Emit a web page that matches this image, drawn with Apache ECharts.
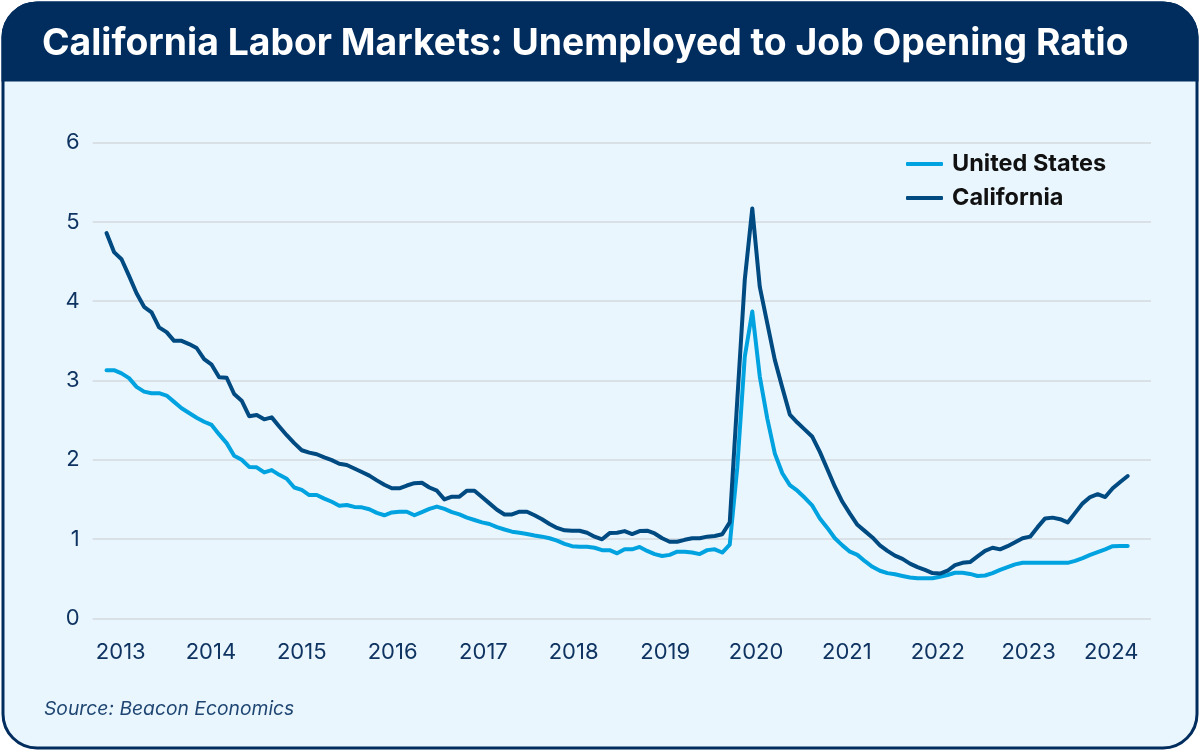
<!DOCTYPE html>
<html>
<head>
<meta charset="utf-8">
<script src="https://cdn.jsdelivr.net/npm/echarts@6/dist/echarts.min.js"></script>
<style>
  html, body { margin: 0; padding: 0; background: #ffffff; }
  #chart { width: 1200px; height: 753px; }
</style>
</head>
<body>
<div id="chart"></div>
<script>
// Monthly observations (index 0 = first month shown)
const unitedStates = [
  3.13, 3.13, 3.09, 3.03, 2.92, 2.86, 2.84, 2.84, 2.81, 2.73, 2.65, 2.59,
  2.53, 2.48, 2.44, 2.32, 2.21, 2.05, 2.00, 1.91, 1.905, 1.84, 1.87, 1.81,
  1.76, 1.65, 1.62, 1.555, 1.555, 1.51, 1.47, 1.42, 1.43, 1.405, 1.40, 1.375,
  1.33, 1.30, 1.335, 1.345, 1.345, 1.30, 1.34, 1.38, 1.41, 1.38, 1.34, 1.31,
  1.27, 1.24, 1.21, 1.19, 1.15, 1.12, 1.093, 1.08, 1.063, 1.045, 1.03, 1.01,
  0.98, 0.94, 0.91, 0.903, 0.903, 0.89, 0.86, 0.86, 0.82, 0.87, 0.87, 0.90,
  0.85, 0.81, 0.786, 0.80, 0.84, 0.84, 0.83, 0.81, 0.86, 0.87, 0.83, 0.93,
  1.9, 3.30, 3.87, 3.05, 2.52, 2.08, 1.83, 1.68, 1.61, 1.52, 1.42, 1.26,
  1.14, 1.01, 0.92, 0.84, 0.80, 0.72, 0.65, 0.60, 0.57, 0.555, 0.534, 0.515,
  0.505, 0.505, 0.505, 0.525, 0.546, 0.575, 0.575, 0.56, 0.534, 0.54, 0.57, 0.61,
  0.645, 0.68, 0.70, 0.70, 0.70, 0.70, 0.70, 0.70, 0.70, 0.725, 0.76, 0.80,
  0.835, 0.87, 0.91, 0.912, 0.912
];
const california = [
  4.86, 4.62, 4.53, 4.32, 4.10, 3.93, 3.86, 3.67, 3.61, 3.50, 3.50, 3.46,
  3.41, 3.27, 3.20, 3.04, 3.035, 2.83, 2.745, 2.55, 2.565, 2.51, 2.535, 2.42,
  2.31, 2.21, 2.12, 2.09, 2.07, 2.03, 1.995, 1.95, 1.934, 1.89, 1.845, 1.80,
  1.74, 1.685, 1.64, 1.64, 1.675, 1.705, 1.71, 1.65, 1.61, 1.50, 1.535, 1.535,
  1.61, 1.61, 1.53, 1.45, 1.37, 1.31, 1.31, 1.345, 1.345, 1.30, 1.25, 1.19,
  1.14, 1.11, 1.105, 1.105, 1.08, 1.03, 0.997, 1.075, 1.08, 1.10, 1.063, 1.10,
  1.105, 1.07, 1.01, 0.966, 0.966, 0.99, 1.009, 1.009, 1.03, 1.038, 1.06, 1.21,
  2.75, 4.27, 5.17, 4.18, 3.72, 3.26, 2.91, 2.57, 2.47, 2.38, 2.29, 2.10,
  1.88, 1.66, 1.47, 1.32, 1.18, 1.10, 1.02, 0.92, 0.85, 0.79, 0.75, 0.69,
  0.645, 0.61, 0.57, 0.565, 0.60, 0.67, 0.70, 0.71, 0.78, 0.85, 0.89, 0.87,
  0.91, 0.96, 1.01, 1.03, 1.15, 1.26, 1.27, 1.25, 1.21, 1.33, 1.45, 1.53,
  1.565, 1.53, 1.64, 1.72, 1.795
];
const yearLabels = ['2013','2014','2015','2016','2017','2018','2019','2020','2021','2022','2023','2024'];
const yearTickPositions = [1.9, 13.9, 26.0, 38.1, 50.2, 62.2, 74.4, 86.5, 98.6, 110.7, 122.8, 133.8];
const seriesNames = ['United States', 'California'];
const titleText = 'California Labor Markets: Unemployed to Job Opening Ratio';
const sourceText = 'Source: Beacon Economics';

const toPairs = arr => arr.map((v, i) => [i, v]);

const NAVY = '#012d5e';
const US_COLOR = '#00a3df';
const CA_COLOR = '#004a82';
const TEXT_NAVY = '#0f3461';

const chart = echarts.init(document.getElementById('chart'), null, { renderer: 'canvas' });
chart.setOption({
  backgroundColor: '#ffffff',
  animation: false,
  graphic: [
    { type: 'rect', z: -10, silent: true,
      shape: { x: 3, y: 3, width: 1194, height: 745, r: 34 },
      style: { fill: '#eaf6fe', stroke: NAVY, lineWidth: 3 } },
    { type: 'rect', z: -9, silent: true,
      shape: { x: 3, y: 3, width: 1194, height: 77, r: [34, 34, 0, 0] },
      style: { fill: NAVY, stroke: NAVY, lineWidth: 3 } }
  ],
  title: [
    { text: titleText, left: 37, top: 20,
      textStyle: { color: '#ffffff', fontFamily: 'Inter', fontWeight: 'bold', fontSize: 37.3 } },
    { text: sourceText, left: 39, top: 695,
      textStyle: { color: '#1f4672', fontFamily: 'Inter', fontStyle: 'italic', fontWeight: 'normal', fontSize: 19.3 } }
  ],
  legend: {
    orient: 'vertical',
    left: 901,
    top: 147,
    itemWidth: 37,
    itemHeight: 4,
    itemGap: 10,
    icon: 'roundRect',
    data: seriesNames,
    textStyle: { color: '#111111', fontFamily: 'Inter', fontWeight: 'bold', fontSize: 23.5, lineHeight: 24, padding: [0, 0, 0, 4] }
  },
  grid: { left: 92.7, right: 49, top: 142.7, bottom: 134.7 },
  xAxis: {
    type: 'value',
    min: -1.84,
    max: 139.1,
    axisLine: { show: false },
    axisTick: { show: false, customValues: yearTickPositions },
    splitLine: { show: false },
    axisLabel: {
      customValues: yearTickPositions,
      formatter: v => {
        const k = yearTickPositions.findIndex(p => Math.abs(p - v) < 1e-6);
        return k >= 0 ? yearLabels[k] : '';
      },
      color: TEXT_NAVY, fontFamily: 'Inter', fontSize: 22, margin: 23
    }
  },
  yAxis: {
    type: 'value',
    min: 0, max: 6, interval: 1,
    axisLine: { show: false },
    axisTick: { show: false },
    splitLine: { lineStyle: { color: '#d3d8de', width: 1.5 } },
    axisLabel: { color: TEXT_NAVY, fontFamily: 'Inter', fontSize: 22, margin: 13 }
  },
  series: [
    { name: seriesNames[0], type: 'line', data: toPairs(unitedStates), showSymbol: false,
      color: US_COLOR, lineStyle: { width: 4, color: US_COLOR, cap: 'round', join: 'round' } },
    { name: seriesNames[1], type: 'line', data: toPairs(california), showSymbol: false,
      color: CA_COLOR, lineStyle: { width: 4, color: CA_COLOR, cap: 'round', join: 'round' } }
  ]
});
</script>
</body>
</html>
